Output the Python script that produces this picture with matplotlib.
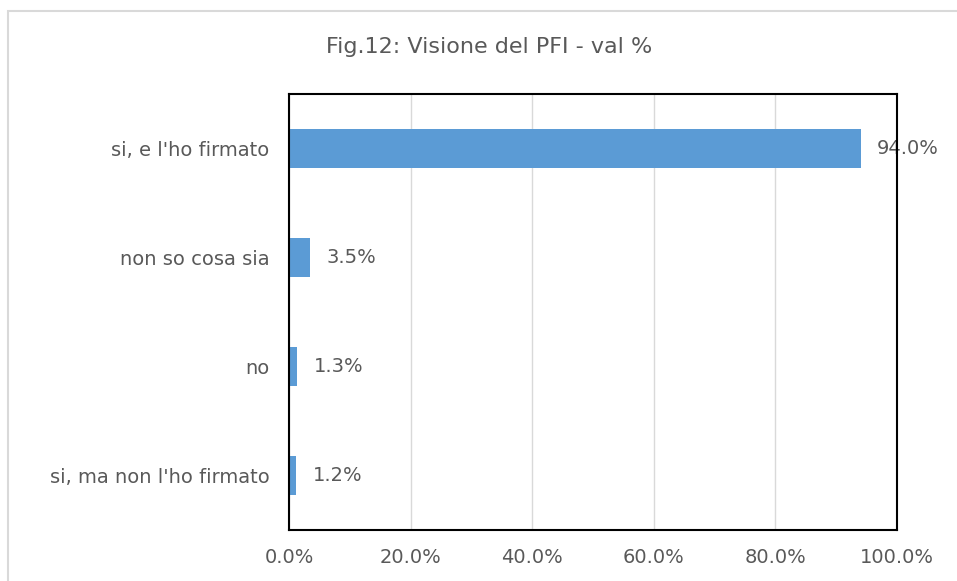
import matplotlib
matplotlib.use("Agg")
import matplotlib.pyplot as plt
from matplotlib.patches import Rectangle
from matplotlib.ticker import FuncFormatter

categories = ["si, e l'ho firmato", "non so cosa sia", "no", "si, ma non l'ho firmato"]
values = [94.0, 3.5, 1.3, 1.2]
xticks = [0, 20, 40, 60, 80, 100]

TEXT = "#595959"
BAR = "#5B9BD5"
FS = 14

plt.rcParams["font.family"] = ["DejaVu Sans"]

fig = plt.figure(figsize=(9.57, 5.81), dpi=100)
fig.patches.append(Rectangle((8 / 957, -0.1), 1.1, 1 - 11 / 581 + 0.1, transform=fig.transFigure,
                             fill=False, edgecolor="#D9D9D9", linewidth=1.5))

ax = fig.add_axes([289 / 957, 1 - 530 / 581, (897 - 289) / 957, (530 - 94) / 581])
pos = list(range(len(categories)))
ax.barh(pos, values, height=0.36, color=BAR, zorder=3)
for p, v in zip(pos, values):
    ax.annotate("%.1f%%" % v, (v, p), xytext=(12, 0), textcoords="offset points",
                va="center", ha="left", fontsize=FS, color=TEXT, zorder=2)

ax.set_xlim(0, 100)
ax.set_ylim(3.5, -0.5)
ax.set_xticks(xticks)
ax.xaxis.set_major_formatter(FuncFormatter(lambda x, _: "%.1f%%" % x))
ax.set_yticks(pos)
ax.set_yticklabels(categories)
ax.tick_params(axis="both", length=0, labelsize=FS, labelcolor=TEXT)
ax.tick_params(axis="x", pad=13)
ax.tick_params(axis="y", pad=14)
ax.grid(axis="x", color="#D9D9D9", linewidth=1, zorder=0)
for s in ax.spines.values():
    s.set_color("black")
    s.set_linewidth(1.5)
    s.set_zorder(5)

fig.text(489 / 957, 1 - 47 / 581, "Fig.12: Visione del PFI - val %", ha="center", va="center",
         fontsize=16, color=TEXT)

fig.savefig("out.png", dpi=100)
